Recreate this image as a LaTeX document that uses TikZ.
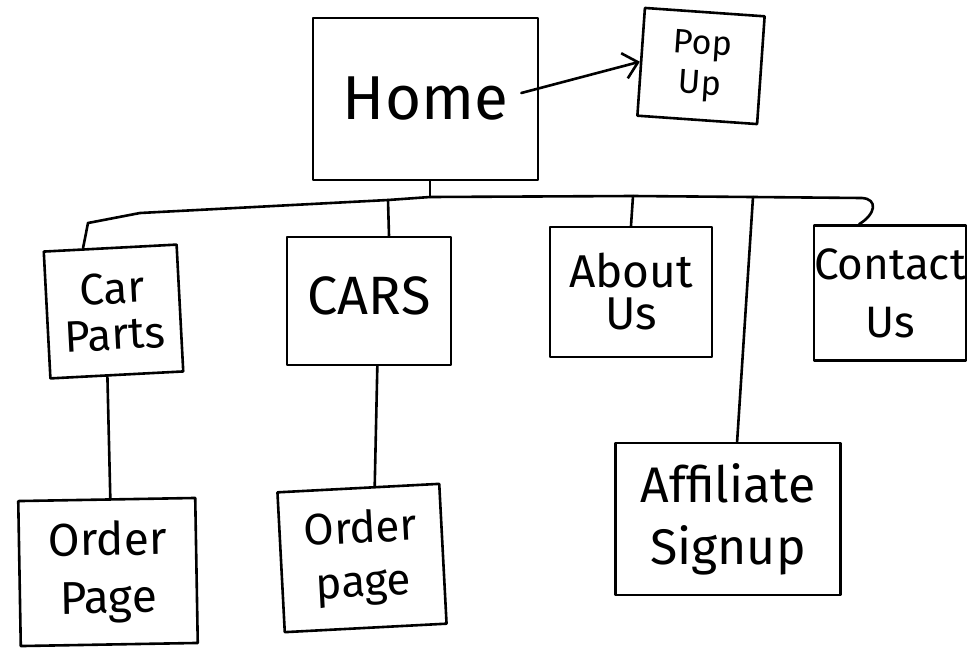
\documentclass[tikz,border=0pt]{standalone}
\usepackage{fontspec}
\setmainfont{Fira Sans}
\usetikzlibrary{arrows.meta,calc}
\newcommand\fsz[2]{\fontsize{#1}{#2}\selectfont}
\begin{document}
\begin{tikzpicture}[x=1pt,y=-1pt,
  pg/.style={draw, line width=2.6pt, rectangle, inner sep=0pt, align=center, line join=round},
  ln/.style={line width=2.6pt, line cap=round, line join=round}]
\fill[white] (0,0) rectangle (976,651);
\useasboundingbox (0,0) rectangle (976,651);
% boxes
\node[pg, minimum width=225pt, minimum height=162pt, font=\fsz{62}{70}] (home) at (425.5,99) {Home};
\node[pg, minimum width=120pt, minimum height=108pt, rotate=-4, font=\fsz{34}{40}] (pop) at (701,66) {Pop\\Up};
\node[pg, minimum width=133pt, minimum height=127pt, rotate=3, font=\fsz{44}{46}] (cp) at (113.5,311.5) {Car\\Parts};
\node[pg, minimum width=164pt, minimum height=128pt, font=\fsz{54}{60}] (cars) at (369,301) {\raisebox{10pt}{CARS}};
\node[pg, minimum width=162pt, minimum height=130pt, font=\fsz{46}{42}] (about) at (631,292) {About\\Us};
\node[pg, minimum width=152pt, minimum height=135pt, font=\fsz{44}{58}] (contact) at (890,293) {Contact\\Us};
\node[pg, minimum width=225pt, minimum height=152pt, font=\fsz{50}{62}] (aff) at (728,519) {Affiliate\\Signup};
\node[pg, minimum width=177pt, minimum height=145pt, rotate=1, font=\fsz{46}{58}] (op1) at (108,572) {Order\\Page};
\node[pg, minimum width=162pt, minimum height=140pt, rotate=3, font=\fsz{44}{54}] (op2) at (362,558) {Order\\page};
% bus junctions
\coordinate (bL) at (88,223);
\coordinate (b1) at (140,213);
\coordinate (jcars) at (388,200);
\coordinate (jhome) at (430,197);
\coordinate (jabout) at (633,196);
\coordinate (jaff) at (753,197);
\coordinate (bR) at (862,198);
% targets on box edges
\coordinate (tcp) at ($(cp.north west)!0.3!(cp.north east)$);
\coordinate (tcars) at ($(cars.north west)!0.62!(cars.north east)$);
\coordinate (taff) at ($(aff.north west)!0.54!(aff.north east)$);
\coordinate (tcon) at ($(contact.north west)!0.3!(contact.north east)$);
\coordinate (scp) at ($(cp.south west)!0.43!(cp.south east)$);
\coordinate (top1) at ($(op1.north west)!0.52!(op1.north east)$);
\coordinate (scars) at ($(cars.south west)!0.55!(cars.south east)$);
\coordinate (top2) at ($(op2.north west)!0.6!(op2.north east)$);
% connectors
\draw[ln] (home.south -| jhome) -- (jhome);
\draw[ln] (tcp) -- (bL) -- (b1) -- (jcars) -- (jhome) -- (jabout) -- (jaff) -- (bR)
  .. controls (878,199) and (876,214) .. (tcon);
\draw[ln] (jcars) -- (tcars);
\draw[ln] (jabout) -- (about.north);
\draw[ln] (jaff) -- (taff);
\draw[ln] (scp) -- (top1);
\draw[ln] (scars) -- (top2);
\draw[ln, -{Straight Barb[length=14pt,width=26pt,line width=2.6pt]}] ($(home.east)+(-18,-6)$) -- (pop.west);
\end{tikzpicture}
\end{document}
